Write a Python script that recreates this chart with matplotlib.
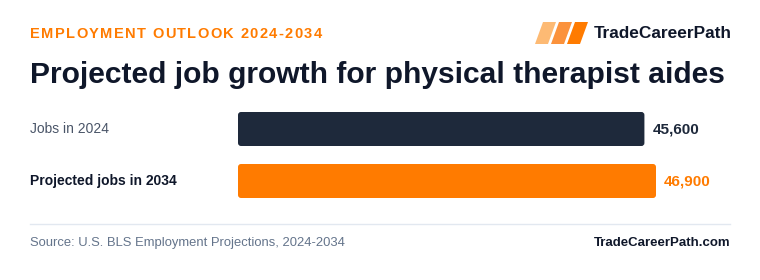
import matplotlib
matplotlib.use("Agg")
import matplotlib.pyplot as plt
from matplotlib.patches import FancyBboxPatch, Polygon

plt.rcParams['font.family'] = ['Liberation Sans', 'DejaVu Sans']

categories = ["Jobs in 2024", "Projected jobs in 2034"]
values = [45600, 46900]
value_labels = ["45,600", "46,900"]

header = "EMPLOYMENT OUTLOOK 2024-2034"
title = "Projected job growth for physical therapist aides"
brand = "TradeCareerPath"
source = "Source: U.S. BLS Employment Projections, 2024-2034"
site = "TradeCareerPath.com"

DARK = "#1e293b"
ORANGE = "#ff7b00"
GRAY = "#4a5568"
W, H = 760, 280

fig = plt.figure(figsize=(7.6, 2.8), dpi=100)
fig.patch.set_facecolor("white")
renderer = fig.canvas.get_renderer()

def fx(px):
    return px / W

def fy(py):
    return 1 - py / H

# bars axes: left at 238px, right at 740px
ax_left, ax_right = 238, 740
ax_top, ax_bot = 100, 210
ax = fig.add_axes([fx(ax_left), fy(ax_bot), fx(ax_right - ax_left), (ax_bot - ax_top) / H])
ax.set_axis_off()
full_px = 418.0
xmax = values[1] * (ax_right - ax_left) / full_px
ax.set_xlim(0, xmax)
ax.set_ylim(ax_bot, ax_top)
unit = xmax / (ax_right - ax_left)  # data units per pixel

centers = [129, 181]
bar_h = 34
colors = [DARK, ORANGE]
bars = ax.barh(centers, values, height=bar_h, color=colors)
for b, c in zip(bars, colors):
    x0, y0, w, h = b.get_x(), b.get_y(), b.get_width(), b.get_height()
    b.set_visible(False)
    p = FancyBboxPatch((x0, y0), w, h, boxstyle="round,pad=0,rounding_size=%f" % (3 * unit),
                       mutation_aspect=1 / unit, facecolor=c, edgecolor="none")
    ax.add_patch(p)

for i, (v, lab) in enumerate(zip(values, value_labels)):
    ax.text(v + unit * 8, centers[i], lab,
            va="center", ha="left", fontsize=11, fontweight="bold",
            color=DARK if i == 0 else ORANGE)

# category labels
fig.text(fx(30), fy(129), categories[0], ha="left", va="center", fontsize=10, color=GRAY)
fig.text(fx(30), fy(181), categories[1], ha="left", va="center", fontsize=10,
         fontweight="bold", color="#0f172a")

# header with letter spacing
x = 30.0
spacing = 1.35
tmp = fig.text(0, 0, "a a", fontsize=10.5, fontweight="bold")
tmp2 = fig.text(0, 0, "aa", fontsize=10.5, fontweight="bold")
space_w = tmp.get_window_extent(renderer).width - tmp2.get_window_extent(renderer).width
tmp.remove(); tmp2.remove()
for ch in header:
    t = fig.text(fx(x), fy(34), ch, ha="left", va="center", fontsize=10.5,
                 fontweight="bold", color=ORANGE)
    wpx = space_w if ch == " " else t.get_window_extent(renderer).width
    x += wpx + spacing

# title
fig.text(fx(30), fy(75), title, ha="left", va="center", fontsize=21.6,
         fontweight="bold", color="#0f172a")

# logo
logo_cols = ["#fdba74", "#fb923c", "#ff7b00"]
for i, c in enumerate(logo_cols):
    x0 = 535 + i * 16
    pts = [(x0, 44), (x0 + 13, 44), (x0 + 21, 22), (x0 + 8, 22)]
    fig.patches.append(Polygon([(fx(a), fy(b)) for a, b in pts], closed=True,
                               transform=fig.transFigure, facecolor=c, edgecolor="none"))
fig.text(fx(594), fy(34), brand, ha="left", va="center", fontsize=12.4,
         fontweight="bold", color="#0f172a")

# separator
fig.add_artist(plt.Line2D([fx(30), fx(730)], [fy(224), fy(224)],
                          transform=fig.transFigure, color="#e2e8f0", lw=1))
fig.text(fx(30), fy(243), source, ha="left", va="center", fontsize=9.4, color="#64748b")
fig.text(fx(730), fy(243), site, ha="right", va="center", fontsize=9.5,
         fontweight="bold", color="#0f172a")

fig.savefig("out.png", dpi=100, facecolor="white")
